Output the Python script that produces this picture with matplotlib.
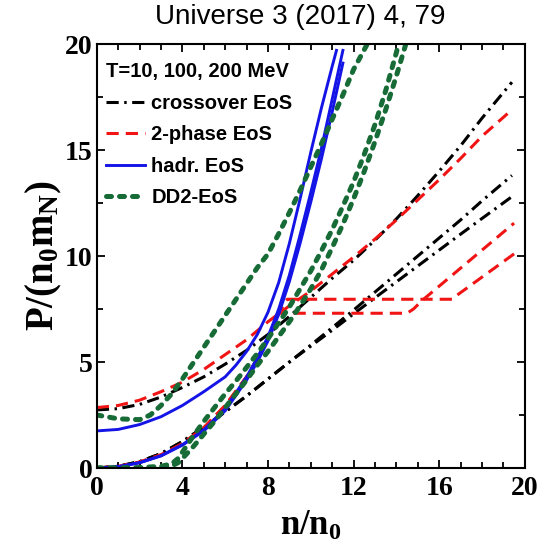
import numpy as np
import matplotlib
matplotlib.use('Agg')
import matplotlib.pyplot as plt
from matplotlib.ticker import MultipleLocator

plt.rcParams['mathtext.fontset'] = 'custom'
plt.rcParams['mathtext.rm'] = 'Liberation Serif:bold'
plt.rcParams['mathtext.it'] = 'Liberation Serif:bold'
plt.rcParams['mathtext.bf'] = 'Liberation Serif:bold'

# crossover EoS (black dash-dot), T = 10, 100, 200 MeV
n_cross = [0, 1, 2, 3, 4, 5, 6, 7, 8, 9, 10, 11, 12, 13, 14, 15, 16, 17, 18, 19.4]
p_cross_10 = [0, 0.08, 0.3, 0.68, 1.25, 1.93, 2.65, 3.4, 4.2, 5.0, 5.75, 6.5, 7.27, 8.03, 8.78, 9.53, 10.28, 11.03, 11.77, 12.8]
p_cross_100 = [0, 0.08, 0.3, 0.68, 1.25, 1.93, 2.65, 3.4, 4.2, 5.0, 5.8, 6.62, 7.45, 8.3, 9.15, 10.0, 10.85, 11.7, 12.6, 13.8]
p_cross_200 = [2.74, 2.8, 3.0, 3.35, 3.8, 4.3, 4.9, 5.55, 6.3, 7.15, 8.05, 8.95, 9.8, 10.75, 11.75, 12.85, 14.0, 15.2, 16.5, 18.2]

# 2-phase EoS (red dashed)
n_2ph_10 = [0, 1, 2, 3, 4, 5, 6, 7, 7.5, 8, 8.5, 8.9, 16.6, 16.9, 19.5]
p_2ph_10 = [0, 0.07, 0.28, 0.62, 1.15, 1.9, 2.95, 4.3, 5.15, 6.1, 7.3, 7.96, 7.96, 8.2, 10.1]
n_2ph_100 = [0, 1, 2, 3, 4, 5, 6, 7, 7.5, 8, 8.5, 14.5, 14.8, 15.2, 19.5]
p_2ph_100 = [0, 0.07, 0.28, 0.62, 1.15, 1.9, 2.95, 4.3, 5.15, 6.1, 7.3, 7.3, 7.5, 7.9, 11.55]
n_2ph_200 = [0, 1, 2, 3, 4, 5, 6, 7, 8, 9, 10, 11, 12, 13, 14, 15, 16, 17, 18, 19.4]
p_2ph_200 = [2.85, 2.95, 3.2, 3.6, 4.05, 4.65, 5.35, 6.05, 6.9, 7.65, 8.35, 9.15, 9.95, 10.8, 11.7, 12.65, 13.6, 14.6, 15.65, 16.9]

# hadronic EoS (blue solid)
n_had = [0, 1, 2, 3, 4, 5, 6, 7, 7.5, 8, 8.5, 9, 9.5, 10, 10.5, 11, 11.5]
p_had_10 = [0, 0.06, 0.25, 0.57, 1.08, 1.75, 2.7, 4.15, 5.0, 6.0, 7.25, 8.8, 10.6, 12.55, 14.6, 16.8, 19.1]
p_had_100 = [0, 0.06, 0.25, 0.58, 1.1, 1.8, 2.8, 4.3, 5.2, 6.2, 7.5, 9.1, 11.0, 13.0, 15.1, 17.4, 19.7]
n_had_200 = [0, 1, 2, 3, 4, 5, 6, 6.5, 7, 7.5, 8, 8.5, 9, 9.5, 10, 10.5, 11, 11.2]
p_had_200 = [1.75, 1.82, 2.05, 2.42, 2.95, 3.6, 4.3, 4.85, 5.5, 6.3, 7.35, 8.75, 10.6, 12.7, 14.9, 17.0, 18.95, 19.7]

# DD2 EoS (green dotted)
n_dd2 = [0, 1, 2, 3, 3.5, 3.8, 4, 4.5, 5, 5.5, 6, 6.5, 7, 7.5, 8, 8.5, 9, 9.5, 10, 10.5, 11, 11.5, 12, 12.5, 13, 13.5, 14, 14.5]
p_dd2_10 = [0, 0, 0, 0.03, 0.1, 0.25, 0.45, 1.0, 1.6, 2.2, 2.85, 3.5, 4.15, 4.85, 5.5, 6.2, 6.9, 7.65, 8.45, 9.35, 10.4, 11.5, 12.7, 14.0, 15.4, 16.9, 18.5, 20.2]
n_dd2_100 = [0, 1, 2, 3, 3.5, 3.8, 4, 4.5, 5, 5.5, 6, 6.5, 7, 7.5, 8, 8.5, 9, 9.5, 10, 10.5, 11, 11.5, 12, 12.5, 13, 13.5, 14, 14.15]
p_dd2_100 = [0, 0, 0.02, 0.08, 0.2, 0.45, 0.75, 1.5, 2.2, 2.85, 3.5, 4.1, 4.75, 5.4, 6.1, 6.85, 7.6, 8.45, 9.3, 10.25, 11.25, 12.35, 13.5, 14.8, 16.2, 17.8, 19.6, 20.2]
n_dd2_200 = [0, 1, 2, 2.5, 3, 3.5, 4, 4.5, 5, 5.5, 6, 6.5, 7, 7.5, 8, 8.5, 9, 9.5, 10, 10.5, 11, 11.5, 12, 12.8]
p_dd2_200 = [2.5, 2.32, 2.28, 2.5, 2.95, 3.5, 4.2, 4.95, 5.7, 6.45, 7.2, 7.95, 8.7, 9.45, 10.1, 11.05, 12.05, 13.1, 14.2, 15.3, 16.45, 17.6, 18.8, 20.3]

black = 'black'
red = '#f01414'
blue = '#1414e6'
green = '#176b36'

fig = plt.figure(figsize=(5.41, 5.53), dpi=100)
ax = fig.add_axes([0.179, 0.1537, 0.791, 0.7667])

dashdot = (0, (4, 1.8, 0.8, 1.8))
dashed = (0, (4, 2.3))
dotted = (0, (1.0, 1.6))

ax.plot(n_cross, p_cross_10, color=black, lw=2.2, ls=dashdot, label='crossover EoS')
ax.plot(n_cross, p_cross_100, color=black, lw=2.2, ls=dashdot)
ax.plot(n_cross, p_cross_200, color=black, lw=2.2, ls=dashdot)

ax.plot(n_2ph_10, p_2ph_10, color=red, lw=2.2, ls=dashed, label='2-phase EoS')
ax.plot(n_2ph_100, p_2ph_100, color=red, lw=2.2, ls=dashed)
ax.plot(n_2ph_200, p_2ph_200, color=red, lw=2.2, ls=dashed)

ax.plot(n_had, p_had_10, color=blue, lw=2.1, label='hadr. EoS')
ax.plot(n_had, p_had_100, color=blue, lw=2.1)
ax.plot(n_had_200, p_had_200, color=blue, lw=2.1)

for xs, ys, lab in [(n_dd2, p_dd2_10, 'DD2-EoS'), (n_dd2_100, p_dd2_100, None),
                    (n_dd2_200, p_dd2_200, None)]:
    ax.plot(xs, ys, color=green, lw=3.6, ls=dotted, dash_capstyle='round', label=lab)

ax.set_xlim(0, 20)
ax.set_ylim(0, 20)
ax.xaxis.set_major_locator(MultipleLocator(4))
ax.xaxis.set_minor_locator(MultipleLocator(1))
ax.yaxis.set_major_locator(MultipleLocator(5))
ax.yaxis.set_minor_locator(MultipleLocator(2.5))
ax.tick_params(which='both', direction='in', top=True, right=True, width=1.3)
ax.tick_params(which='major', length=6, pad=6)
ax.tick_params(which='minor', length=4.5)
for sp in ax.spines.values():
    sp.set_linewidth(1.5)
for lbl in ax.get_xticklabels() + ax.get_yticklabels():
    lbl.set_fontfamily('Liberation Serif')
    lbl.set_fontweight('bold')
    lbl.set_fontsize(20)
ax.tick_params(axis='y', pad=3)

ax.set_xlabel(r'$\mathrm{n/n_0}$', fontsize=25, labelpad=5)
ax.set_ylabel(r'$\mathrm{P/(n_0m_N)}$', fontsize=28, labelpad=1)

leg = ax.legend(loc='upper left', bbox_to_anchor=(-0.006, 0.985), frameon=False,
                title='T=10, 100, 200 MeV',
                prop={'family': 'Liberation Sans', 'weight': 'bold', 'size': 14.5},
                handlelength=1.9, handletextpad=0.33, labelspacing=0.62,
                borderaxespad=0.0, borderpad=0.6)
leg.get_title().set_fontfamily('Liberation Sans')
leg.get_title().set_fontweight('bold')
leg.get_title().set_fontsize(14.5)
leg._legend_box.align = 'left'

fig.text(0.5545, 0.969, 'Universe 3 (2017) 4, 79', ha='center', va='center',
         fontsize=20, family='Liberation Sans')

fig.savefig('out.png', dpi=100)
